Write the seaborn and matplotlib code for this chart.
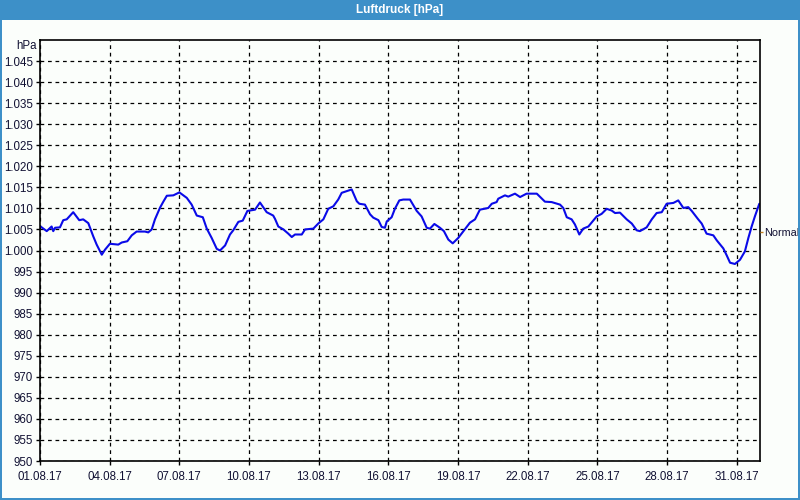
import matplotlib
matplotlib.use("Agg")
import matplotlib.pyplot as plt
import matplotlib.dates as mdates
import matplotlib.ticker as mticker
from matplotlib.patches import Rectangle
import numpy as np
import pandas as pd
import seaborn as sns

# ---- data (days since 01.08.2017 00:00, pressure in hPa) ----
day_offsets = [
    0.00, 0.29, 0.50, 0.57, 0.65, 0.86, 1.00, 1.15, 1.43, 1.69, 1.86, 2.08, 2.29, 2.44,
    2.66, 2.80, 3.01, 3.37, 3.52, 3.76, 3.95, 4.16, 4.52, 4.66, 4.81, 4.95, 5.17, 5.31,
    5.46, 5.74, 6.00, 6.32, 6.53, 6.75, 7.01, 7.18, 7.39, 7.61, 7.75, 7.97, 8.18, 8.32,
    8.54, 8.73, 8.93, 9.26, 9.47, 9.76, 10.04, 10.12, 10.26, 10.48, 10.69, 10.84, 10.98,
    11.27, 11.41, 11.77, 11.98, 12.20, 12.41, 12.63, 12.84, 12.99, 13.42, 13.64, 13.75,
    13.99, 14.21, 14.35, 14.57, 14.71, 14.85, 14.93, 15.14, 15.28, 15.47, 15.64, 15.93,
    16.22, 16.43, 16.65, 16.79, 16.98, 17.22, 17.39, 17.58, 17.77, 18.01, 18.23, 18.51,
    18.73, 18.94, 19.30, 19.45, 19.66, 19.73, 20.02, 20.16, 20.45, 20.67, 20.95, 21.39,
    21.74, 22.03, 22.39, 22.53, 22.68, 22.89, 23.03, 23.22, 23.39, 23.61, 23.97, 24.18,
    24.40, 24.61, 24.76, 24.97, 25.26, 25.48, 25.69, 25.83, 26.12, 26.34, 26.55, 26.77,
    26.98, 27.27, 27.48, 27.70, 27.91, 28.06, 28.34, 28.49, 28.70, 28.99, 29.14, 29.42,
    29.57, 29.71, 29.92, 30.14, 30.35, 30.50, 30.64, 30.78, 30.97,
]
pressure_hpa = [
    1005.8, 1004.6, 1005.7, 1004.6, 1005.4, 1005.5, 1007.2, 1007.4, 1009.1, 1007.2, 1007.4,
    1006.5, 1003.4, 1001.4, 999.0, 1000.2, 1001.6, 1001.4, 1001.9, 1002.2, 1003.6, 1004.5,
    1004.5, 1004.3, 1005.0, 1007.4, 1010.2, 1011.6, 1013.0, 1013.1, 1013.8, 1012.5, 1010.9,
    1008.3, 1007.9, 1005.2, 1003.0, 1000.4, 1000.0, 1001.2, 1003.8, 1004.8, 1006.8, 1007.1,
    1009.4, 1009.7, 1011.4, 1009.1, 1008.3, 1007.5, 1005.7, 1005.0, 1004.0, 1003.2, 1003.8,
    1003.8, 1005.0, 1005.2, 1006.4, 1007.4, 1009.9, 1010.5, 1012.1, 1013.7, 1014.5, 1011.7,
    1011.1, 1010.9, 1008.6, 1007.8, 1007.2, 1005.6, 1005.4, 1006.9, 1007.9, 1009.9, 1011.9,
    1012.1, 1012.1, 1009.4, 1008.1, 1005.4, 1005.2, 1006.3, 1005.4, 1004.6, 1002.6, 1001.7,
    1003.0, 1004.6, 1006.6, 1007.4, 1009.7, 1010.1, 1011.1, 1011.5, 1012.3, 1013.1, 1012.8,
    1013.5, 1012.7, 1013.5, 1013.5, 1011.6, 1011.5, 1010.9, 1010.1, 1007.9, 1007.4, 1006.2,
    1003.8, 1005.2, 1005.7, 1008.1, 1008.7, 1009.9, 1009.5, 1008.9, 1009.0, 1007.4, 1006.4,
    1004.8, 1004.6, 1005.5, 1007.4, 1008.9, 1009.1, 1011.1, 1011.3, 1011.9, 1010.1, 1010.3,
    1009.4, 1007.4, 1006.4, 1004.0, 1003.6, 1002.4, 1000.5, 998.8, 997.1, 996.8, 997.8,
    999.8, 1003.0, 1005.7, 1008.1, 1011.1,
]
normal_hpa = 1004.3
title_text = "Luftdruck [hPa]"
unit_label = "hPa"
y_ticks = list(range(950, 1050, 5))
x_tick_dates = ["2017-08-%02d" % d for d in range(1, 32, 3)]

start = pd.Timestamp("2017-08-01")
end = pd.Timestamp("2017-09-01")
df = pd.DataFrame({
    "time": start + pd.to_timedelta(day_offsets, unit="D"),
    "hPa": pressure_hpa,
})

sns.set_theme(style="white")
plt.rcParams["font.family"] = ["Liberation Sans", "DejaVu Sans"]

bg = "#fbfefb"
blue_bar = "#3d90c8"
txt = "#111133"

fig = plt.figure(figsize=(8, 5), dpi=100, facecolor=bg)
ax = fig.add_axes([40 / 800, 1 - 461 / 500, 720 / 800, 421 / 500])
ax.set_facecolor(bg)

sns.lineplot(data=df, x="time", y="hPa", ax=ax, color="#0a0ae8", linewidth=1.5)

ax.set_xlim(start, end)
ax.set_ylim(950, 1050)
ax.set_xlabel("")
ax.set_ylabel("")

ax.xaxis.set_major_locator(mticker.FixedLocator(mdates.date2num(pd.to_datetime(x_tick_dates))))
ax.xaxis.set_minor_locator(mdates.DayLocator())
ax.xaxis.set_major_formatter(mdates.DateFormatter("%d.%m.%y"))
ax.yaxis.set_major_locator(mticker.FixedLocator(y_ticks))
ax.yaxis.set_major_formatter(
    mticker.FuncFormatter(lambda v, p: f"{v:,.0f}".replace(",", "."))
)

ax.grid(True, which="major", color="black", linestyle=(0, (3, 3)), linewidth=0.9)
ax.tick_params(axis="both", which="major", direction="out", length=3, width=1,
               color="black", labelsize=8.3, labelcolor=txt, pad=2)
ax.tick_params(axis="x", which="minor", direction="out", length=3, width=1, color="black")
ax.tick_params(axis="x", which="major", pad=4, bottom=True)
ax.tick_params(axis="y", which="major", left=True)
for s in ax.spines.values():
    s.set_visible(True)
    s.set_color("black")
    s.set_linewidth(1.2)

# right axis "Normal" marker
ax2 = ax.twinx()
ax2.set_ylim(950, 1050)
ax2.set_yticks([normal_hpa])
ax2.set_yticklabels(["Normal"])
ax2.tick_params(axis="y", direction="out", length=2, width=1, color="#c08020",
                labelsize=7.8, labelcolor=txt, pad=1)
ax2.grid(False)
for s in ax2.spines.values():
    s.set_visible(False)

# unit label at top-left
ax.text(-0.004, 0.985, unit_label, transform=ax.transAxes, ha="right", va="center",
        fontsize=8.3, color=txt)

# window chrome: title bar + border
fig.patches.append(Rectangle((0, 480 / 500), 1, 20 / 500, transform=fig.transFigure,
                             facecolor=blue_bar, edgecolor="none", zorder=0))
fig.patches.append(Rectangle((0, 0), 2 / 800, 1, transform=fig.transFigure,
                             facecolor=blue_bar, edgecolor="none", zorder=0))
fig.patches.append(Rectangle((798 / 800, 0), 2 / 800, 1, transform=fig.transFigure,
                             facecolor=blue_bar, edgecolor="none", zorder=0))
fig.patches.append(Rectangle((0, 0), 1, 2 / 500, transform=fig.transFigure,
                             facecolor=blue_bar, edgecolor="none", zorder=0))
fig.text(0.5, 1 - 10 / 500, title_text, ha="center", va="center", color="white",
         fontsize=8.5, fontweight="bold")

fig.savefig("out.png", dpi=100, facecolor=bg)
